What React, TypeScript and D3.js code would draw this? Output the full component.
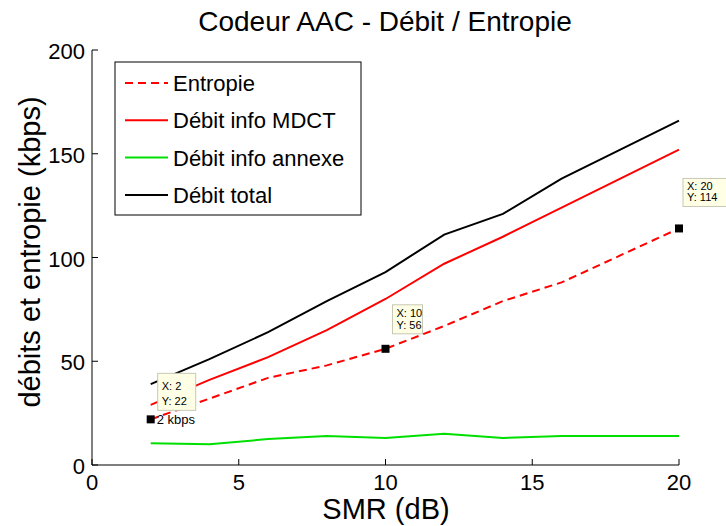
import * as d3 from "d3";

// SMR values (dB)
const smr = [2, 4, 6, 8, 10, 12, 14, 16, 18, 20];
// series, kbps
const entropie = [22, 32, 42, 48, 56, 67, 79, 88, 101, 114];
const debitMdct = [29, 41, 52, 65, 80, 97, 110, 124, 138, 152];
const debitAnnexe = [10.5, 10, 12.5, 14, 13, 15, 13, 14, 14, 14];
const debitTotal = [39, 51, 64, 79, 93, 111, 121, 138, 152, 166];

const xTicks = [0, 5, 10, 15, 20];
const yTicks = [0, 50, 100, 150, 200];

const legendItems = [
  {label: "Entropie", color: "#ff0000", dash: "8,5"},
  {label: "Débit info MDCT", color: "#ff0000", dash: ""},
  {label: "Débit info annexe", color: "#00e000", dash: ""},
  {label: "Débit total", color: "#000000", dash: ""},
];

// data tips (point + offset of the yellow box)
const tips = [
  {x: 2, y: 22, extra: "2 kbps", dx: 7, dy: -46, w: 38, h: 37},
  {x: 10, y: 56, extra: "", dx: 7, dy: -44, w: 30, h: 29},
  {x: 20, y: 114, extra: "", dx: 4, dy: -50, w: 48, h: 28},
];

const W = 726, H = 526;
const font = "'Liberation Sans', Arial, sans-serif";

export default function App() {
  const x = d3.scaleLinear().domain([0, 20]).range([92, 679]);
  const y = d3.scaleLinear().domain([0, 200]).range([465, 50]);

  const line = (vals: number[]) =>
    d3.line<number>()
      .x((_, i) => x(smr[i]))
      .y(d => y(d))(vals) || "";

  const series = [
    {vals: debitAnnexe, color: "#00e000", dash: "", w: 2},
    {vals: debitMdct, color: "#ff0000", dash: "", w: 2},
    {vals: debitTotal, color: "#000000", dash: "", w: 2},
    {vals: entropie, color: "#ff0000", dash: "8,5", w: 2},
  ];

  return (
    <svg width={W} height={H} style={{position: "absolute", left: 0, top: 0, background: "#fff"}}
         fontFamily={font}>
      <rect width={W} height={H} fill="#fff"/>
      <text x={385} y={31} textAnchor="middle" fontSize={28}>Codeur AAC - Débit / Entropie</text>

      {/* axes */}
      <path d={`M${x(0)},${y(200)}V${y(0)}H${x(20)}`} fill="none" stroke="#000" strokeWidth={1}/>
      {yTicks.map(t => (
        <g key={"y" + t}>
          <line x1={x(0)} x2={x(0) + 6} y1={y(t)} y2={y(t)} stroke="#000"/>
          <text x={x(0) - 7} y={y(t) + 9} textAnchor="end" fontSize={22}>{t}</text>
        </g>
      ))}
      {xTicks.map(t => (
        <g key={"x" + t}>
          <line x1={x(t)} x2={x(t)} y1={y(0)} y2={y(0) - 6} stroke="#000"/>
          <text x={x(t)} y={y(0) + 25} textAnchor="middle" fontSize={22}>{t}</text>
        </g>
      ))}
      <text x={386} y={519} textAnchor="middle" fontSize={29}>SMR (dB)</text>
      <text transform={`translate(40,252) rotate(-90)`} textAnchor="middle" fontSize={29}>
        débits et entropie (kbps)
      </text>

      {/* lines */}
      {series.map((s, i) => (
        <path key={i} d={line(s.vals)} fill="none" stroke={s.color} strokeWidth={s.w}
              strokeDasharray={s.dash || undefined}/>
      ))}

      {/* legend */}
      <rect x={115} y={62} width={246} height={153} fill="#fff" stroke="#000" strokeWidth={1}/>
      {legendItems.map((d, i) => {
        const ly = 83 + i * 37.3;
        return (
          <g key={d.label}>
            <line x1={125} x2={168} y1={ly} y2={ly} stroke={d.color} strokeWidth={2}
                  strokeDasharray={d.dash || undefined}/>
            <text x={173} y={ly + 8} fontSize={22}>{d.label}</text>
          </g>
        );
      })}

      {/* data tips */}
      {tips.map(t => {
        const px = x(t.x), py = y(t.y);
        const bx = px + t.dx, by = py + t.dy;
        return (
          <g key={"tip" + t.x}>
            <rect x={bx} y={by} width={t.w} height={t.h}
                  fill="#ffffe6" stroke="#c8c8b4" strokeWidth={1}/>
            <text x={bx + 4} y={by + t.h / 2 - 2} fontSize={11}>X: {t.x}</text>
            <text x={bx + 4} y={by + t.h - 5} fontSize={11}>Y: {t.y}</text>
            <rect x={px - 4} y={py - 4} width={8} height={8} fill="#000"/>
            {t.extra && <text x={px + 6} y={py + 5} fontSize={13}>{t.extra}</text>}
          </g>
        );
      })}
    </svg>
  );
}
